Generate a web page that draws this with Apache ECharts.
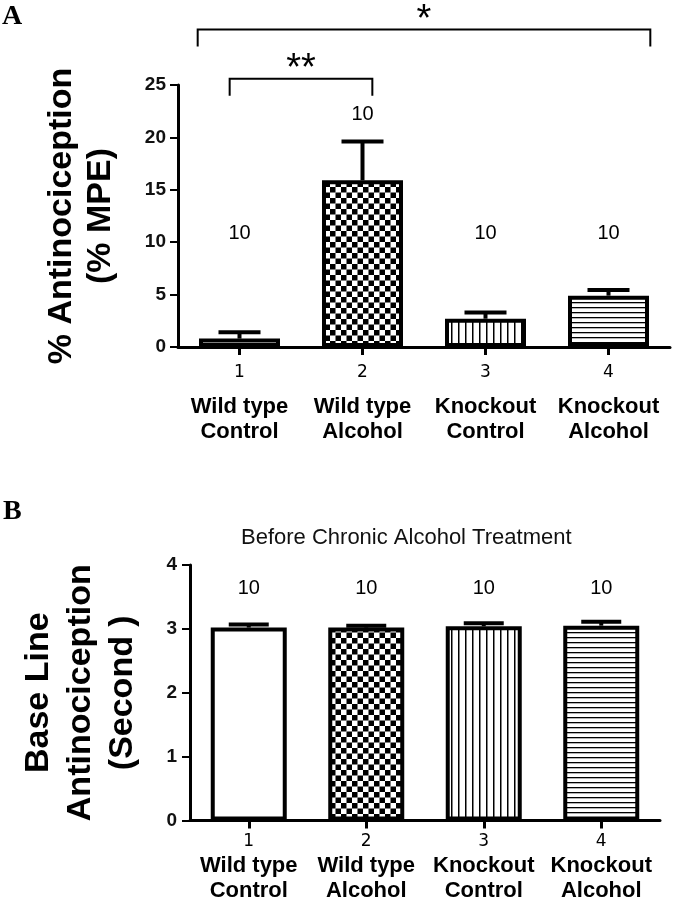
<!DOCTYPE html>
<html>
<head>
<meta charset="utf-8">
<script src="https://cdn.jsdelivr.net/npm/echarts@6/dist/echarts.min.js"></script>
<style>
html,body{margin:0;padding:0;background:#fff;}
#chart{width:677px;height:902px;}
</style>
</head>
<body>
<div id="chart"></div>
<script>
// ---- data ----
const groupNumbers = ['1', '2', '3', '4'];
const groupLine1 = ['Wild type', 'Wild type', 'Knockout', 'Knockout'];
const groupLine2 = ['Control', 'Alcohol', 'Control', 'Alcohol'];

const mpeMeans = [0.8, 15.9, 2.7, 4.9];
const mpeErrors = [0.6, 3.7, 0.6, 0.55];
const mpeN = [10, 10, 10, 10];

const baseMeans = [3.02, 3.02, 3.04, 3.05];
const baseErrors = [0.05, 0.03, 0.05, 0.06];
const baseN = [10, 10, 10, 10];

const mpeTicks = [0, 5, 10, 15, 20, 25];
const baseTicks = [0, 1, 2, 3, 4];

const comparisons = [
  { from: 0, to: 1, text: '**' },
  { from: 0, to: 3, text: '*' }
];

const panelBTitle = 'Before Chronic Alcohol Treatment';

// ---- patterns ----
function makeCanvas(w, h, draw) {
  const c = document.createElement('canvas');
  c.width = w; c.height = h;
  const ctx = c.getContext('2d');
  ctx.fillStyle = '#fff';
  ctx.fillRect(0, 0, w, h);
  ctx.fillStyle = '#000';
  draw(ctx);
  return c;
}
const checker = makeCanvas(11, 11, ctx => { ctx.fillRect(0, 0, 5.5, 5.5); ctx.fillRect(5.5, 5.5, 5.5, 5.5); });
const vstripe = makeCanvas(7, 4, ctx => { ctx.fillRect(3, 0, 1.5, 4); });
const hstripe = makeCanvas(4, 5, ctx => { ctx.fillRect(0, 2, 4, 1.3); });
const fills = [
  '#ffffff',
  { image: checker, repeat: 'repeat' },
  { image: vstripe, repeat: 'repeat' },
  { image: hstripe, repeat: 'repeat' }
];

const chart = echarts.init(document.getElementById('chart'), null, { renderer: 'canvas' });

function catLabel(idx, numLH, margin) {
  return {
    show: true,
    margin: margin,
    interval: 0,
    formatter: function (v, i) {
      return '{n|' + groupNumbers[i] + '}\n{b|' + groupLine1[i] + '}\n{b|' + groupLine2[i] + '}';
    },
    rich: {
      n: { fontFamily: 'DejaVu Sans', fontSize: 17, color: '#000', lineHeight: numLH },
      b: { fontFamily: 'Liberation Sans', fontWeight: 'bold', fontSize: 22, color: '#000', lineHeight: 25 }
    }
  };
}

function barData(means) {
  return means.map((v, i) => ({ value: v, itemStyle: { color: fills[i] } }));
}

function errorSeries(xi, yi, means, errs, capHalf) {
  return {
    type: 'custom',
    xAxisIndex: xi, yAxisIndex: yi,
    z: 5,
    data: means.map((m, i) => [i, m, errs[i]]),
    renderItem: function (params, api) {
      const i = api.value(0), m = api.value(1), e = api.value(2);
      const p0 = api.coord([i, m]);
      const p1 = api.coord([i, m + e]);
      return {
        type: 'group',
        children: [
          { type: 'line', shape: { x1: p0[0], y1: p0[1], x2: p1[0], y2: p1[1] }, style: { stroke: '#000', lineWidth: 4 } },
          { type: 'line', shape: { x1: p1[0] - capHalf, y1: p1[1], x2: p1[0] + capHalf, y2: p1[1] }, style: { stroke: '#000', lineWidth: 4 } }
        ]
      };
    }
  };
}

function nSeries(xi, yi, ns, yPos) {
  return {
    type: 'custom',
    xAxisIndex: xi, yAxisIndex: yi,
    clip: false,
    z: 6,
    data: ns.map((n, i) => [i, yPos(i), n]),
    renderItem: function (params, api) {
      const p = api.coord([api.value(0), api.value(1)]);
      return {
        type: 'text',
        style: {
          x: p[0], y: p[1], text: String(api.value(2)),
          fontFamily: 'Liberation Sans', fontSize: 20, fill: '#000',
          align: 'center', verticalAlign: 'middle'
        }
      };
    }
  };
}

const bracketLevels = [25.6, 30.3];
const bracketOut = [0.08, 0.34];

const option = {
  animation: false,
  backgroundColor: '#fff',
  title: {
    text: panelBTitle,
    left: 236, top: 522,
    textStyle: { fontFamily: 'Liberation Sans', fontWeight: 'normal', fontSize: 22, color: '#111' }
  },
  graphic: [
    { type: 'text', left: 2, top: 3, style: { text: 'A', fontFamily: 'Liberation Serif', fontWeight: 'bold', fontSize: 28, fill: '#000' } },
    { type: 'text', left: 3, top: 498, style: { text: 'B', fontFamily: 'Liberation Serif', fontWeight: 'bold', fontSize: 28, fill: '#000' } }
  ],
  grid: [
    { left: 178, right: 7, top: 85, height: 262 },
    { left: 190, right: 17, top: 565, height: 257 }
  ],
  xAxis: [
    {
      gridIndex: 0, type: 'category', data: groupNumbers,
      axisLine: { lineStyle: { color: '#000', width: 3 } },
      axisTick: { show: true, alignWithLabel: true, length: 8, lineStyle: { color: '#000', width: 3 } },
      axisLabel: catLabel(0, 42, 5)
    },
    {
      gridIndex: 1, type: 'category', data: groupNumbers,
      axisLine: { lineStyle: { color: '#000', width: 3 } },
      axisTick: { show: true, alignWithLabel: true, length: 8, lineStyle: { color: '#000', width: 3 } },
      axisLabel: catLabel(1, 24, 9)
    }
  ],
  yAxis: [
    {
      gridIndex: 0, type: 'value', min: mpeTicks[0], max: mpeTicks[mpeTicks.length - 1], interval: mpeTicks[1] - mpeTicks[0],
      name: '% Antinociception\n(% MPE)', nameLocation: 'middle', nameGap: 58,
      nameTextStyle: { fontFamily: 'Liberation Sans', fontWeight: 'bold', fontSize: 34, color: '#000', lineHeight: 39 },
      axisLine: { show: true, lineStyle: { color: '#000', width: 3 } },
      axisTick: { show: true, length: 8, lineStyle: { color: '#000', width: 2 } },
      axisLabel: { margin: 12, fontFamily: 'Liberation Sans', fontWeight: 'bold', fontSize: 19, color: '#111' },
      splitLine: { show: false }
    },
    {
      gridIndex: 1, type: 'value', min: baseTicks[0], max: baseTicks[baseTicks.length - 1], interval: baseTicks[1] - baseTicks[0],
      name: 'Base Line\nAntinociception\n(Second )', nameLocation: 'middle', nameGap: 46,
      nameTextStyle: { fontFamily: 'Liberation Sans', fontWeight: 'bold', fontSize: 34, color: '#000', lineHeight: 42 },
      axisLine: { show: true, lineStyle: { color: '#000', width: 3 } },
      axisTick: { show: true, length: 8, lineStyle: { color: '#000', width: 2 } },
      axisLabel: { margin: 13, fontFamily: 'Liberation Sans', fontWeight: 'bold', fontSize: 19, color: '#111' },
      splitLine: { show: false }
    }
  ],
  series: [
    {
      type: 'bar', xAxisIndex: 0, yAxisIndex: 0, barWidth: 81, z: 3,
      itemStyle: { borderColor: '#000', borderWidth: 4 },
      data: barData(mpeMeans)
    },
    errorSeries(0, 0, mpeMeans, mpeErrors, 21),
    nSeries(0, 0, mpeN, i => Math.max(10.8, mpeMeans[i] + mpeErrors[i] + 2.6)),
    {
      type: 'custom', xAxisIndex: 0, yAxisIndex: 0, clip: false, z: 6,
      data: comparisons.map((c, k) => [c.from, c.to, k]),
      renderItem: function (params, api) {
        const k = api.value(2);
        const c = comparisons[k];
        const band = api.size([1, 0])[0];
        const lvl = bracketLevels[k];
        const pa = api.coord([c.from, lvl]);
        const pb = api.coord([c.to, lvl]);
        const xa = pa[0] - bracketOut[k] * band;
        const xb = pb[0] + bracketOut[k] * band;
        const y = pa[1];
        const drop = 17;
        return {
          type: 'group',
          children: [
            { type: 'polyline', shape: { points: [[xa, y + drop], [xa, y], [xb, y], [xb, y + drop]] }, style: { stroke: '#000', lineWidth: 2, fill: null } },
            { type: 'text', style: { x: (xa + xb) / 2, y: y - 9, text: c.text, fontFamily: 'Liberation Sans', fontSize: 38, fill: '#000', align: 'center', verticalAlign: 'middle' } }
          ]
        };
      }
    },
    {
      type: 'bar', xAxisIndex: 1, yAxisIndex: 1, barWidth: 76, z: 3,
      itemStyle: { borderColor: '#000', borderWidth: 4 },
      data: barData(baseMeans)
    },
    errorSeries(1, 1, baseMeans, baseErrors, 20),
    nSeries(1, 1, baseN, i => 3.64)
  ]
};
chart.setOption(option);
</script>
</body>
</html>
